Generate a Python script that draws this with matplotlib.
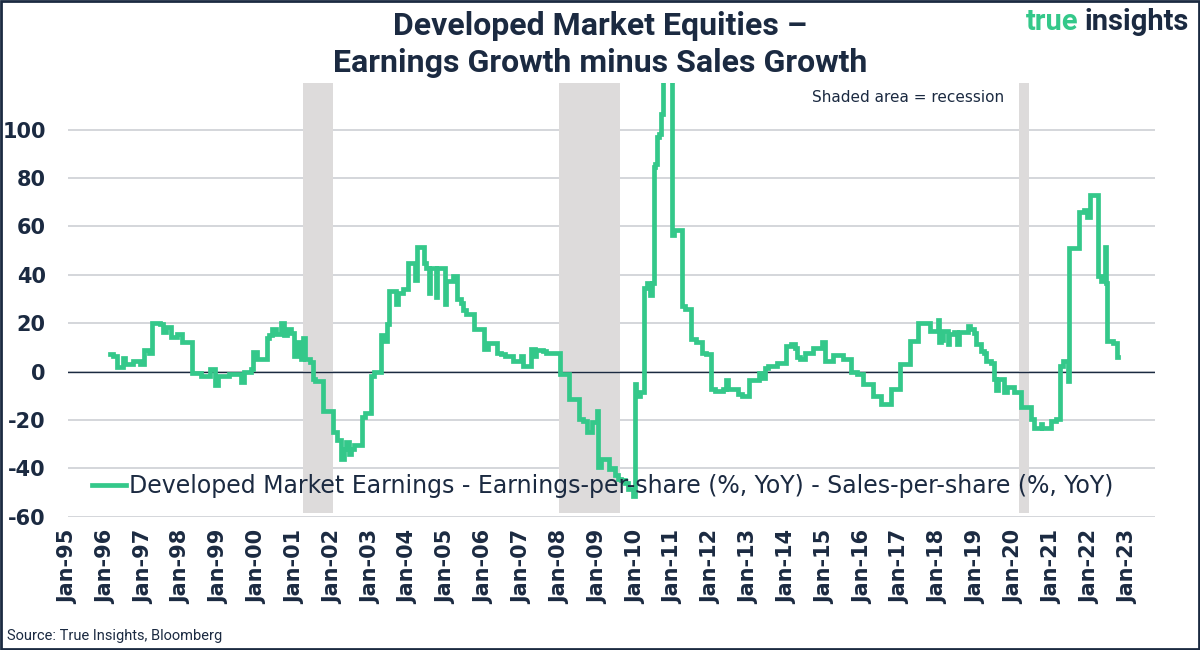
import numpy as np
import matplotlib.pyplot as plt

NAVY = "#1B2A41"
GREEN = "#34C88A"
GRID = "#CDD0D4"
SHADE = "#DDDBDB"

# x axis: one labelled tick per January
years = list(range(1995, 2024))
tick_labels = [f"Jan-{y % 100:02d}" for y in years]
y_ticks = list(range(-60, 101, 20))

# recessions (start, end) in decimal years
recessions = [(2001.22, 2002.00), (2007.98, 2009.58), (2020.13, 2020.40)]

# EPS growth minus SPS growth, step points (decimal year, value)
t = [1996.10, 1996.20, 1996.30, 1996.46, 1996.50, 1996.73, 1996.91, 1997.02, 1997.15, 1997.23,
     1997.44, 1997.50, 1997.60, 1997.72, 1997.88, 1998.00, 1998.27, 1998.52, 1998.75, 1998.88,
     1998.95, 1999.25, 1999.58, 1999.66, 1999.83, 1999.90, 2000.00, 2000.25, 2000.30, 2000.40,
     2000.50, 2000.64, 2000.70, 2000.78, 2000.90, 2000.96, 2001.05, 2001.15, 2001.22, 2001.25,
     2001.40, 2001.47, 2001.52, 2001.73, 2002.00, 2002.10, 2002.22, 2002.28, 2002.35, 2002.42,
     2002.47, 2002.55, 2002.76, 2002.85, 2003.00, 2003.08, 2003.26, 2003.38, 2003.43, 2003.48,
     2003.66, 2003.72, 2003.85, 2003.98, 2004.17, 2004.21, 2004.40, 2004.47, 2004.54, 2004.57,
     2004.73, 2004.76, 2004.97, 2005.00, 2005.17, 2005.27, 2005.38, 2005.43, 2005.52, 2005.73,
     2006.00, 2006.10, 2006.33, 2006.45, 2006.55, 2006.77, 2006.98, 2007.01, 2007.23, 2007.33,
     2007.36, 2007.55, 2007.62, 2008.00, 2008.24, 2008.50, 2008.60, 2008.72, 2008.85, 2008.98,
     2009.01, 2009.08, 2009.29, 2009.38, 2009.44, 2009.53, 2009.62, 2009.72, 2009.80, 2009.92,
     2009.98, 2010.02, 2010.12, 2010.22, 2010.30, 2010.38, 2010.42, 2010.47, 2010.50, 2010.55,
     2010.62, 2010.66, 2010.73, 2010.95, 2011.00, 2011.21, 2011.30, 2011.45, 2011.60, 2011.74,
     2011.85, 2011.98, 2012.10, 2012.30, 2012.38, 2012.43, 2012.70, 2012.80, 2013.00, 2013.26,
     2013.36, 2013.42, 2013.50, 2013.72, 2013.97, 2014.10, 2014.22, 2014.25, 2014.35, 2014.47,
     2014.68, 2014.93, 2015.00, 2015.22, 2015.48, 2015.70, 2015.85, 2016.00, 2016.27, 2016.48,
     2016.75, 2016.97, 2017.24, 2017.47, 2017.77, 2017.98, 2018.00, 2018.07, 2018.12, 2018.26,
     2018.29, 2018.40, 2018.50, 2018.53, 2018.77, 2018.84, 2018.95, 2019.00, 2019.13, 2019.20,
     2019.26, 2019.40, 2019.47, 2019.52, 2019.56, 2019.72, 2019.80, 2020.00, 2020.19, 2020.45,
     2020.51, 2020.70, 2020.74, 2020.98, 2021.10, 2021.22, 2021.30, 2021.41, 2021.44, 2021.46,
     2021.71, 2021.85, 2021.93, 2021.99, 2022.21, 2022.30, 2022.40, 2022.43, 2022.45, 2022.60,
     2022.72, 2022.75]
v = [7.4, 6.4, 1.8, 5.5, 3.0, 4.4, 3.0, 8.9, 7.8, 20.0,
     19.5, 16.3, 18.5, 14.4, 15.6, 12.3, -0.5, -2.0, 1.0, -5.5,
     -2.0, -1.0, -4.4, 0.0, 1.0, 8.0, 5.0, 14.0, 15.0, 17.4,
     15.5, 19.9, 15.0, 17.4, 16.0, 6.4, 12.0, 5.0, 14.0, 5.0,
     4.0, -3.2, -4.0, -16.2, -25.0, -28.5, -36.0, -32.0, -29.0, -34.0,
     -32.0, -30.5, -19.0, -17.0, -1.8, 0.0, 15.3, 12.7, 19.5, 33.2,
     28.0, 32.5, 34.0, 44.8, 38.0, 51.7, 45.0, 43.0, 32.5, 43.0,
     31.0, 43.0, 28.0, 37.4, 39.6, 29.8, 28.4, 25.6, 23.6, 17.4,
     9.2, 11.9, 7.8, 7.1, 6.5, 4.4, 6.4, 2.4, 9.2, 6.4,
     9.0, 8.5, 7.8, -1.1, -11.4, -19.6, -20.3, -25.1, -21.0, -16.2,
     -39.5, -36.0, -40.5, -40.0, -43.0, -44.3, -45.0, -46.0, -48.4, -51.3,
     -5.2, -10.0, -8.6, 34.6, 36.6, 31.8, 36.6, 84.6, 86.0, 97.0,
     98.4, 106.6, 140.0, 56.5, 58.6, 27.0, 25.7, 13.3, 12.0, 7.8,
     7.1, -7.3, -8.0, -7.3, -3.7, -7.3, -9.3, -10.0, -3.7, -0.5,
     -2.5, 1.5, 2.2, 3.5, 10.5, 11.5, 9.9, 5.8, 5.1, 7.7,
     9.9, 12.2, 4.4, 7.0, 5.0, -0.4, -1.2, -5.2, -10.0, -13.5,
     -7.3, 3.0, 12.6, 19.9, 16.6, 21.4, 12.2, 13.0, 16.6, 11.4,
     15.6, 16.3, 11.4, 16.3, 19.0, 17.4, 15.8, 11.2, 8.5, 7.8,
     4.4, 3.7, -3.2, -7.6, -3.2, -8.6, -6.6, -8.6, -14.8, -19.6,
     -23.5, -21.8, -23.5, -20.3, -19.6, 2.3, 4.4, -3.8, 4.4, 51.0,
     66.0, 67.0, 64.0, 73.0, 39.4, 37.3, 51.7, 36.6, 12.6, 11.9,
     5.8, 5.8]

series_label = "Developed Market Earnings - Earnings-per-share (%, YoY) - Sales-per-share (%, YoY)"

W, H = 1200, 650
fig = plt.figure(figsize=(12, 6.5), dpi=100)
fig.patch.set_facecolor("white")

# plot area in pixel coordinates of the reference
left, right, top, bottom = 68, 1155, 83.3, 517.3
ax = fig.add_axes([left / W, 1 - bottom / H, (right - left) / W, (bottom - top) / H])

y_min, y_max = -60.3, 119.2
ax.set_xlim(1995.0, 2023.72)
ax.set_ylim(y_min, y_max)

for a, b in recessions:
    ax.fill_between([a, b], -58.4, y_max, color=SHADE, linewidth=0, zorder=1)

ax.axhline(0, color=NAVY, linewidth=1.0, zorder=2)
ax.plot(t, v, drawstyle="steps-post", color=GREEN, linewidth=3.4,
        solid_joinstyle="miter", label=series_label, zorder=3)

ax.set_axisbelow(True)
ax.yaxis.grid(True, color=GRID, linewidth=1.2)
ax.xaxis.grid(False)
for s in ax.spines.values():
    s.set_visible(False)

ax.set_yticks(y_ticks)
ax.set_yticklabels([str(y) for y in y_ticks], fontsize=15, fontweight="bold", color=NAVY)
ax.set_xticks(years)
ax.set_xticklabels(tick_labels, rotation=90, fontsize=15, fontweight="bold", color=NAVY)
ax.tick_params(axis="y", length=0, pad=16)
ax.tick_params(axis="x", length=0, pad=9)

leg = ax.legend(loc="center left", bbox_to_anchor=(0.022, 0.072), frameon=False,
                fontsize=17, handlelength=1.45, handletextpad=0.12, borderpad=0,
                borderaxespad=0)
for txt in leg.get_texts():
    txt.set_color(NAVY)
    txt.set_family("DejaVu Sans")

# titles and annotations
fig.text(0.5, 1 - 26 / H, "Developed Market Equities \u2013", ha="center", va="center",
         fontsize=23, fontweight="bold", color=NAVY, family="Roboto")
fig.text(0.5, 1 - 63 / H, "Earnings Growth minus Sales Growth", ha="center", va="center",
         fontsize=23, fontweight="bold", color=NAVY, family="Roboto")
fig.text(1078 / W, 1 - 22 / H, "true", ha="right", va="center",
         fontsize=21, fontweight="bold", color=GREEN, family="Roboto")
fig.text(1085 / W, 1 - 22 / H, "insights", ha="left", va="center",
         fontsize=21, fontweight="bold", color=NAVY, family="Roboto")
fig.text(812 / W, 1 - 98 / H, "Shaded area = recession", ha="left", va="center",
         fontsize=11, color=NAVY, family="DejaVu Sans")
fig.text(7 / W, 1 - 636 / H, "Source: True Insights, Bloomberg", ha="left", va="center",
         fontsize=10.5, color=NAVY, family="Roboto")

# navy frame round the whole picture
fig.patches.append(plt.Rectangle((0.001, 0.0015), 0.998, 0.997, transform=fig.transFigure,
                                 fill=False, edgecolor=NAVY, linewidth=2))

fig.savefig("out.png", dpi=100)
